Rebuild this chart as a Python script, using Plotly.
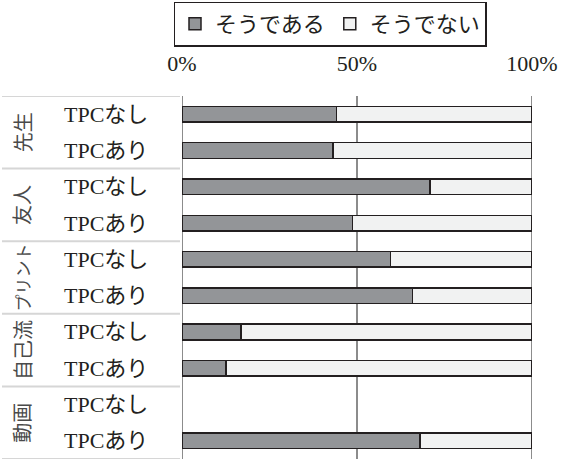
import plotly.graph_objects as go

groups = ["先生", "友人", "プリント", "自己流", "動画"]
conditions = ["TPCなし", "TPCあり"]
yes_values = [44.2, 43.2, 70.9, 48.7, 59.5, 65.8, 16.9, 12.5, None, 68.0]
no_values = [None if v is None else round(100 - v, 1) for v in yes_values]
series_names = ["そうである", "そうでない"]
tick_vals = [0, 50, 100]
tick_text = ["0%", "50%", "100%"]

n = len(groups) * len(conditions)
ypos = list(range(n))
sub_labels = [c for g in groups for c in conditions]

DARK = "#939598"
LIGHT = "#f1f2f2"
EDGE = "#231f20"
GRID = "#8c8c8c"
TXT = "#231f20"
SERIF = "Liberation Serif, Noto Sans CJK JP, serif"
JP = "Noto Sans CJK JP, sans-serif"

fig = go.Figure()
fig.add_trace(go.Bar(
    y=ypos, x=yes_values, orientation="h", name=series_names[0],
    marker=dict(color=DARK, line=dict(color=EDGE, width=1.5)),
))
fig.add_trace(go.Bar(
    y=ypos, x=no_values, orientation="h", name=series_names[1],
    marker=dict(color=LIGHT, line=dict(color=EDGE, width=1.5)),
))

W, H = 563, 459
ml, mr, mt, mb = 182, 31, 96, 0
pw = W - ml - mr
ph = H - mt - mb

def px_to_paper_x(px):
    return (px - ml) / pw

def px_to_paper_y(py):
    return 1 + (mt - py) / ph

annotations = []
for i, lab in enumerate(sub_labels):
    annotations.append(dict(
        x=px_to_paper_x(62), xref="paper", y=i, yref="y",
        text=lab, showarrow=False, xanchor="left", yanchor="middle",
        font=dict(family=SERIF, size=22, color=TXT),
    ))
for gi, g in enumerate(groups):
    size = 20 if len(g) <= 3 else 17
    annotations.append(dict(
        x=px_to_paper_x(22), xref="paper", y=gi * 2 + 0.5, yref="y",
        text=g, showarrow=False, textangle=-90,
        xanchor="center", yanchor="middle",
        font=dict(family=JP, size=size, color="#4a4a4a"),
    ))

shapes = []
for gi in range(len(groups) + 1):
    yb = gi * 2 - 0.5
    shapes.append(dict(
        type="line", xref="paper", yref="y",
        x0=px_to_paper_x(2), x1=px_to_paper_x(180), y0=yb, y1=yb,
        line=dict(color="#d6d6d6", width=2),
    ))
for tv in tick_vals:
    shapes.append(dict(
        type="line", xref="x", yref="paper",
        x0=tv, x1=tv, y0=0, y1=1, layer="below",
        line=dict(color=GRID, width=2),
    ))

fig.update_layout(
    width=W, height=H,
    margin=dict(l=ml, r=mr, t=mt, b=mb),
    paper_bgcolor="white", plot_bgcolor="white",
    barmode="stack", bargap=0.57,
    xaxis=dict(
        range=[0, 100], side="top", tickvals=tick_vals, ticktext=tick_text,
        showgrid=False, zeroline=False,
        showline=False, ticks="", ticklabelstandoff=20,
        tickfont=dict(family=SERIF, size=22, color=TXT), fixedrange=True,
    ),
    yaxis=dict(
        range=[n - 0.5, -0.5], showticklabels=False, showgrid=False,
        zeroline=False, showline=False,
        ticks="", fixedrange=True,
    ),
    legend=dict(
        orientation="h", x=px_to_paper_x(330), xanchor="center",
        y=px_to_paper_y(24), yanchor="middle", traceorder="normal",
        bordercolor=EDGE, borderwidth=1.5, bgcolor="white",
        font=dict(family=JP, size=22, color=TXT),
    ),
    annotations=annotations,
    shapes=shapes,
    showlegend=True,
)

fig.write_html("out.html")
